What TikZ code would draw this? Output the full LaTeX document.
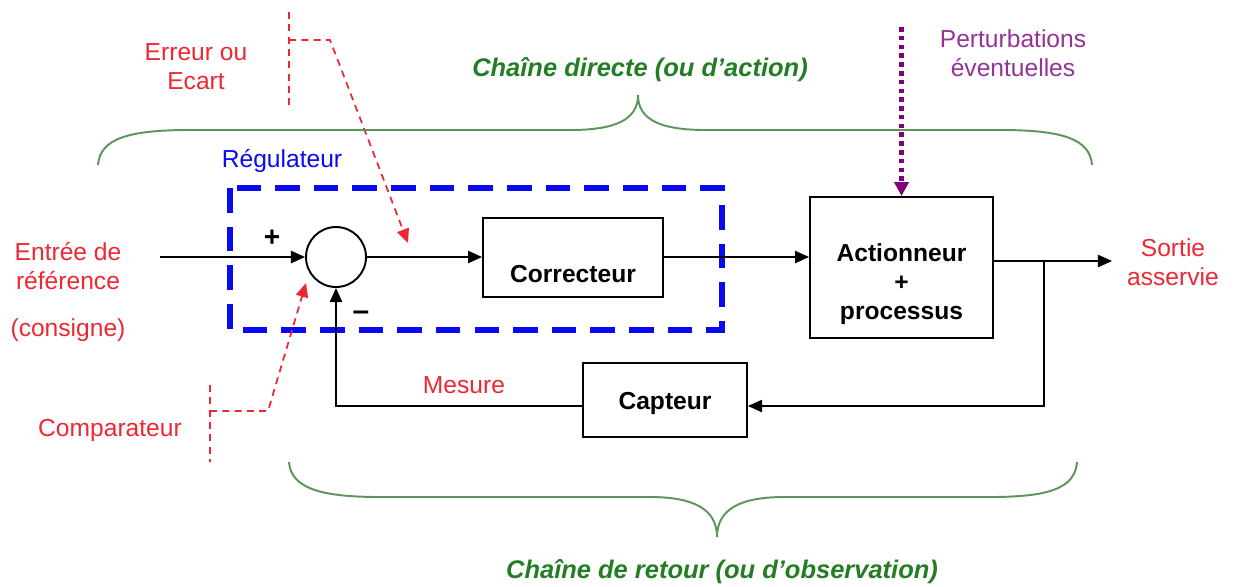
\documentclass[tikz,border=0pt]{standalone}
\usepackage{fontspec}
\setmainfont{Liberation Sans}
\usetikzlibrary{arrows.meta,calc}

\definecolor{errred}{RGB}{238,40,50}
\definecolor{regblue}{RGB}{10,10,240}
\definecolor{chgreen}{RGB}{35,125,35}
\definecolor{brgreen}{RGB}{90,150,90}
\definecolor{pertpurple}{RGB}{125,0,125}
\definecolor{pertlabel}{RGB}{150,50,150}

\tikzset{
  bloc/.style={draw, line width=1.1pt, font=\bfseries\fontsize{14}{16.5}\selectfont, inner sep=0.1cm, align=center},
  sig/.style={line width=0.8pt, -{Triangle[length=8pt,width=7pt]}},
  annot/.style={color=errred, line width=1pt, dash pattern=on 4pt off 3pt},
  annotarrow/.style={annot, -{Triangle[length=8pt,width=7pt]}},
  lbl/.style={font=\fontsize{14}{16.5}\selectfont, align=center},
  chaine/.style={color=chgreen, font=\bfseries\itshape\fontsize{14.5}{17}\selectfont},
  brace/.style={color=brgreen, line width=1.1pt},
}

\begin{document}
\begin{tikzpicture}[x=0.02cm, y=-0.02cm]
  \useasboundingbox (0,0) rectangle (1239,586);

  % blocks
  \node[draw, circle, line width=1.1pt, minimum size=1.2cm, inner sep=0pt] (sum) at (336,257) {};
  \node[bloc, minimum width=3.6cm, text height=1.2cm, text depth=0.22cm, inner sep=0.08cm] (corr) at (573,257.5) {Correcteur};
  \node[bloc, minimum width=3.66cm, text height=2.34cm, text depth=0.28cm] (act) at (901.5,267.5) {Actionneur\\+\\processus};
  \node[bloc, minimum width=3.28cm, text height=0.82cm, text depth=0.46cm] (capt) at (665,400) {Capteur};

  % regulateur
  \draw[color=regblue, line width=3.4pt, dash pattern=on 14pt off 8pt] (230,188) rectangle (722,330);
  \node[lbl, color=regblue] (regul) at (282,161) {Régulateur};

  % labels
  \node[lbl, color=errred] (entree) at (68,292) {Entrée de\\référence\\[10pt](consigne)};
  \node[lbl, color=errred] (sortie) at (1173,262) {Sortie\\asservie};
  \node[lbl, color=errred] (erreur) at (196,67) {Erreur ou\\Ecart};
  \node[lbl, color=errred] (comp) at (110,430) {Comparateur};
  \node[lbl, color=errred] (mesure) at (464,385) {Mesure};
  \node[lbl, color=pertlabel] (perturb) at (1013,53) {Perturbations\\éventuelles};
  \node[font=\bfseries\fontsize{16}{18}\selectfont] (plus) at (272,238) {+};
  \node[font=\bfseries\fontsize{17}{18}\selectfont] (moins) at (361,316) {–};
  \node[chaine] (directe) at (640,70) {Chaîne directe (ou d{\char"27}action)};
  \node[chaine] (retour) at (722,572) {Chaîne de retour (ou d{\char"27}observation)};

  % signals
  \coordinate (in) at (160,257);
  \coordinate (out) at (1112,261);
  \coordinate (br) at (1044,261);
  \coordinate (fb) at (1044,406);
  \draw[sig] (in) -- (sum.west);
  \draw[sig] (sum.east) -- (corr.west |- sum.east);
  \draw[sig] (corr.east |- sum.east) -- (act.west |- sum.east);
  \draw[sig] (act.east |- out) -- (out);
  \draw[sig] (br) -- (fb) -- (capt.east |- fb);
  \draw[sig] (capt.west |- fb) -| (sum.south);

  % perturbations
  \coordinate (ptop) at (901.5,27);
  \draw[color=pertpurple, line width=2.8pt, dash pattern=on 2.6pt off 2.4pt, -{Triangle[length=8pt,width=8pt]}] (ptop) -- (act.north);

  % annotations
  \coordinate (e1) at (289,12);
  \coordinate (e2) at (289,107);
  \coordinate (e3) at (289,40);
  \coordinate (e4) at (330,40);
  \coordinate (etip) at (408,243);
  \draw[annot] (e1) -- (e2);
  \draw[annotarrow] (e3) -- (e4) -- (etip);
  \coordinate (c1) at (210,385);
  \coordinate (c2) at (210,462);
  \coordinate (c3) at (210,411);
  \coordinate (c4) at (268,411);
  \coordinate (ctip) at (306,283);
  \draw[annot] (c1) -- (c2);
  \draw[annotarrow] (c3) -- (c4) -- (ctip);

  % braces
  \draw[brace] (98,165) .. controls (100,138) and (130,130) .. (190,130) -- (570,130) .. controls (615,130) and (638,120) .. (638,95) .. controls (638,120) and (661,130) .. (706,130) -- (1000,130) .. controls (1060,130) and (1090,138) .. (1092,165);
  \draw[brace] (289,462) .. controls (291,488) and (320,497) .. (380,497) -- (650,497) .. controls (695,497) and (717,510) .. (717,537) .. controls (717,510) and (739,497) .. (784,497) -- (990,497) .. controls (1050,497) and (1075,488) .. (1077,462);
\end{tikzpicture}
\end{document}
